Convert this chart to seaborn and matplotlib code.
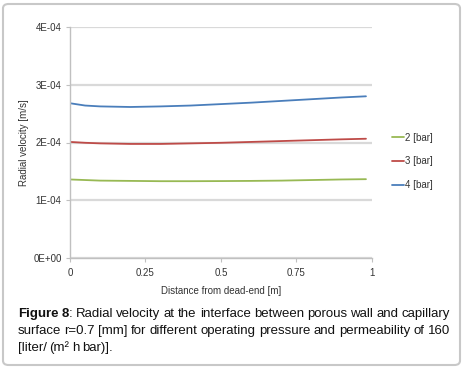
import matplotlib
matplotlib.use("Agg")
import matplotlib.pyplot as plt
import seaborn as sns
import pandas as pd
from matplotlib.patches import FancyBboxPatch
from matplotlib.lines import Line2D

sns.set_theme(style="white")
plt.rcParams['font.family'] = ['Liberation Sans', 'DejaVu Sans']

distance = [0, 0.05, 0.1, 0.2, 0.3, 0.4, 0.5, 0.6, 0.7, 0.8, 0.9, 0.98]
v2 = [1.36e-4, 1.35e-4, 1.34e-4, 1.335e-4, 1.33e-4, 1.33e-4, 1.332e-4, 1.335e-4, 1.34e-4, 1.35e-4, 1.36e-4, 1.365e-4]
v3 = [2.01e-4, 1.995e-4, 1.985e-4, 1.975e-4, 1.975e-4, 1.985e-4, 1.995e-4, 2.01e-4, 2.025e-4, 2.04e-4, 2.055e-4, 2.065e-4]
v4 = [2.68e-4, 2.64e-4, 2.625e-4, 2.615e-4, 2.625e-4, 2.64e-4, 2.665e-4, 2.69e-4, 2.72e-4, 2.75e-4, 2.78e-4, 2.80e-4]
series = ["2 [bar]", "3 [bar]", "4 [bar]"]
colors = ["#98b954", "#be4b48", "#4a7ebb"]
yticks = [0, 1e-4, 2e-4, 3e-4, 4e-4]
ytick_labels = ["0E+00", "1E-04", "2E-04", "3E-04", "4E-04"]
xticks = [0, 0.25, 0.5, 0.75, 1]
xtick_labels = ["0", "0.25", "0.5", "0.75", "1"]

rows = []
for name, vals in zip(series, [v2, v3, v4]):
    for d, v in zip(distance, vals):
        rows.append({"distance": d, "velocity": v, "series": name})
df = pd.DataFrame(rows)

W, H = 464, 368
fig = plt.figure(figsize=(W / 100, H / 100), dpi=100)
ax = fig.add_axes([70 / W, 1 - 258 / H, 302 / W, 231 / H])

sns.lineplot(data=df, x="distance", y="velocity", hue="series", palette=colors,
             hue_order=series, ax=ax, linewidth=1.3, legend=False)

ax.set_xlim(0, 1)
ax.set_ylim(0, 4e-4)
ax.set_yticks(yticks)
ax.set_yticklabels(ytick_labels)
ax.set_xticks(xticks)
ax.set_xticklabels(xtick_labels)
ax.yaxis.grid(True, color="#d9d9d9", linewidth=1.6)
ax.set_axisbelow(True)
for s in ["top", "right"]:
    ax.spines[s].set_visible(False)
for s in ["left", "bottom"]:
    ax.spines[s].set_color("#c0c0c0")
    ax.spines[s].set_linewidth(1.0)
ax.tick_params(axis="both", length=3, width=0.8, color="#c0c0c0", labelsize=7,
               labelcolor="#333333", direction="out", pad=3)
ax.tick_params(axis="x", bottom=True, pad=4)
ax.tick_params(axis="y", left=True)
ax.set_xlabel("Distance from dead-end [m]", fontsize=7, color="#333333", labelpad=6)
ax.set_ylabel("Radial velocity [m/s]", fontsize=7, color="#333333", labelpad=3)

handles = [Line2D([0], [0], color=c, lw=1.3) for c in colors]
fig.legend(handles, series, loc="upper left", bbox_to_anchor=(383 / W, 1 - 124 / H),
           frameon=False, fontsize=7, handlelength=1.3, handletextpad=0.1,
           labelspacing=1.4, labelcolor="#333333")

# Border
fig.patches.append(FancyBboxPatch((3 / W, 3 / H), 457 / W, 361 / H,
                                  boxstyle="round,pad=0,rounding_size=0.012",
                                  transform=fig.transFigure, fill=False,
                                  edgecolor="#c8c8c8", linewidth=1.5))

# Caption (justified)
lines = [
    [("Figure 8", True), (": Radial velocity at the interface between porous wall and capillary", False)],
    [("surface r=0.7 [mm] for different operating pressure and permeability of 160", False)],
    [("[liter/ (m² h bar)].", False)],
]
fs = 9.55
x0, x1 = 18, 450
ys = [317, 334, 351]
fig.canvas.draw()
renderer = fig.canvas.get_renderer()
for li, (segs, yy) in enumerate(zip(lines, ys)):
    merged = []
    for text, bold in segs:
        for p in text.split(" "):
            if p == "":
                continue
            glue = bool(merged) and p.startswith(":")
            merged.append((p, bold, glue))
    arts = []
    widths = []
    for w, b, glue in merged:
        t = fig.text(0, 0, w, fontsize=fs, fontweight="bold" if b else "normal",
                     color="#111111", va="baseline", ha="left")
        bb = t.get_window_extent(renderer)
        arts.append((t, glue))
        widths.append(bb.width)
    total = sum(widths)
    ngaps = sum(1 for _, g in arts[1:] if not g)
    justify = li < len(lines) - 1
    space = 2.7
    if justify and ngaps > 0:
        space = (x1 - x0 - total) / ngaps
    x = x0
    for i, ((t, glue), wdt) in enumerate(zip(arts, widths)):
        if i > 0 and not glue:
            x += space
        t.set_position((x / W, 1 - yy / H))
        x += wdt

fig.savefig("out.png", dpi=100)
